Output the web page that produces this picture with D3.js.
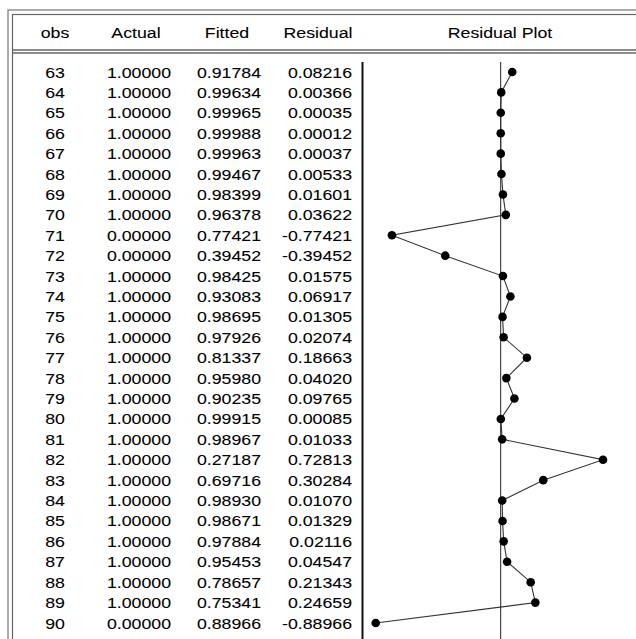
<!DOCTYPE html>
<html>
<head>
<meta charset="utf-8">
<script src="https://cdn.jsdelivr.net/npm/d3@7"></script>
<style>
  body { margin: 0; background: #fff; }
  text { font-family: "Liberation Sans", Arial, Helvetica, sans-serif; font-size: 15.3px; fill: #000; stroke: #000; stroke-width: 0.08px; }
</style>
</head>
<body>
<svg id="chart"></svg>
<script>
const obs = [63, 64, 65, 66, 67, 68, 69, 70, 71, 72, 73, 74, 75, 76, 77, 78, 79, 80, 81, 82, 83, 84, 85, 86, 87, 88, 89, 90];
const actual = [1, 1, 1, 1, 1, 1, 1, 1, 0, 0, 1, 1, 1, 1, 1, 1, 1, 1, 1, 1, 1, 1, 1, 1, 1, 1, 1, 0];
const fitted = [0.91784, 0.99634, 0.99965, 0.99988, 0.99963, 0.99467, 0.98399, 0.96378, 0.77421, 0.39452,
                0.98425, 0.93083, 0.98695, 0.97926, 0.81337, 0.95980, 0.90235, 0.99915, 0.98967, 0.27187,
                0.69716, 0.98930, 0.98671, 0.97884, 0.95453, 0.78657, 0.75341, 0.88966];
const residual = [0.08216, 0.00366, 0.00035, 0.00012, 0.00037, 0.00533, 0.01601, 0.03622, -0.77421, -0.39452,
                  0.01575, 0.06917, 0.01305, 0.02074, 0.18663, 0.04020, 0.09765, 0.00085, 0.01033, 0.72813,
                  0.30284, 0.01070, 0.01329, 0.02116, 0.04547, 0.21343, 0.24659, -0.88966];
const headers = ["obs", "Actual", "Fitted", "Residual", "Residual Plot"];

const W = 636, H = 639;
const svg = d3.select("#chart").attr("width", W).attr("height", H);

const rows = obs.map((o, i) => ({ obs: o, actual: actual[i], fitted: fitted[i], residual: residual[i] }));

// Scales
const y = d3.scaleLinear().domain([63, 90]).range([72, 623]);
const x = d3.scaleLinear().domain([-1, 1]).range([360.2, 641.2]);

// text is a bit stretched horizontally in the original
const sx = 1.16;
function label(g, tx, ty, s, anchor) {
    g.append("text")
        .attr("transform", `translate(${tx},${ty}) scale(${sx},1)`)
        .attr("text-anchor", anchor)
        .text(s);
}

// Frame (double lines, runs off the right and bottom edges)
svg.append("rect").attr("x", 8).attr("y", 10).attr("width", 700).attr("height", 700)
    .attr("fill", "none").attr("stroke", "#888").attr("stroke-width", 1.4);
svg.append("rect").attr("x", 12.5).attr("y", 14.5).attr("width", 700).attr("height", 700)
    .attr("fill", "none").attr("stroke", "#666").attr("stroke-width", 1.2);
// Header separator
[50, 53].forEach(yy => {
    svg.append("line").attr("x1", 12.5).attr("x2", W).attr("y1", yy).attr("y2", yy)
        .attr("stroke", "#666").attr("stroke-width", 1.3);
});

// Header
const head = svg.append("g");
const headX = [55, 136, 227, 318, 500];
headers.forEach((h, i) => label(head, headX[i], 38, h, "middle"));

// Table body
const body = svg.append("g");
rows.forEach(d => {
    const by = y(d.obs) + 5.5;
    label(body, 55, by, d.obs, "middle");
    label(body, 171, by, d.actual.toFixed(5), "end");
    label(body, 261, by, d.fitted.toFixed(5), "end");
    label(body, 352, by, d.residual.toFixed(5), "end");
});

// Residual plot
const plot = svg.append("g");
plot.append("line").attr("x1", 362.5).attr("x2", 362.5).attr("y1", 62).attr("y2", H)
    .attr("stroke", "#111").attr("stroke-width", 2);
plot.append("line").attr("x1", x(0)).attr("x2", x(0)).attr("y1", 62).attr("y2", H)
    .attr("stroke", "#222").attr("stroke-width", 1);

plot.append("path")
    .datum(rows)
    .attr("fill", "none")
    .attr("stroke", "#333")
    .attr("stroke-width", 1.1)
    .attr("d", d3.line().x(d => x(d.residual)).y(d => y(d.obs)));

plot.selectAll("circle")
    .data(rows)
  .enter().append("circle")
    .attr("cx", d => x(d.residual))
    .attr("cy", d => y(d.obs))
    .attr("r", 4.3)
    .attr("fill", "#000");
</script>
</body>
</html>
